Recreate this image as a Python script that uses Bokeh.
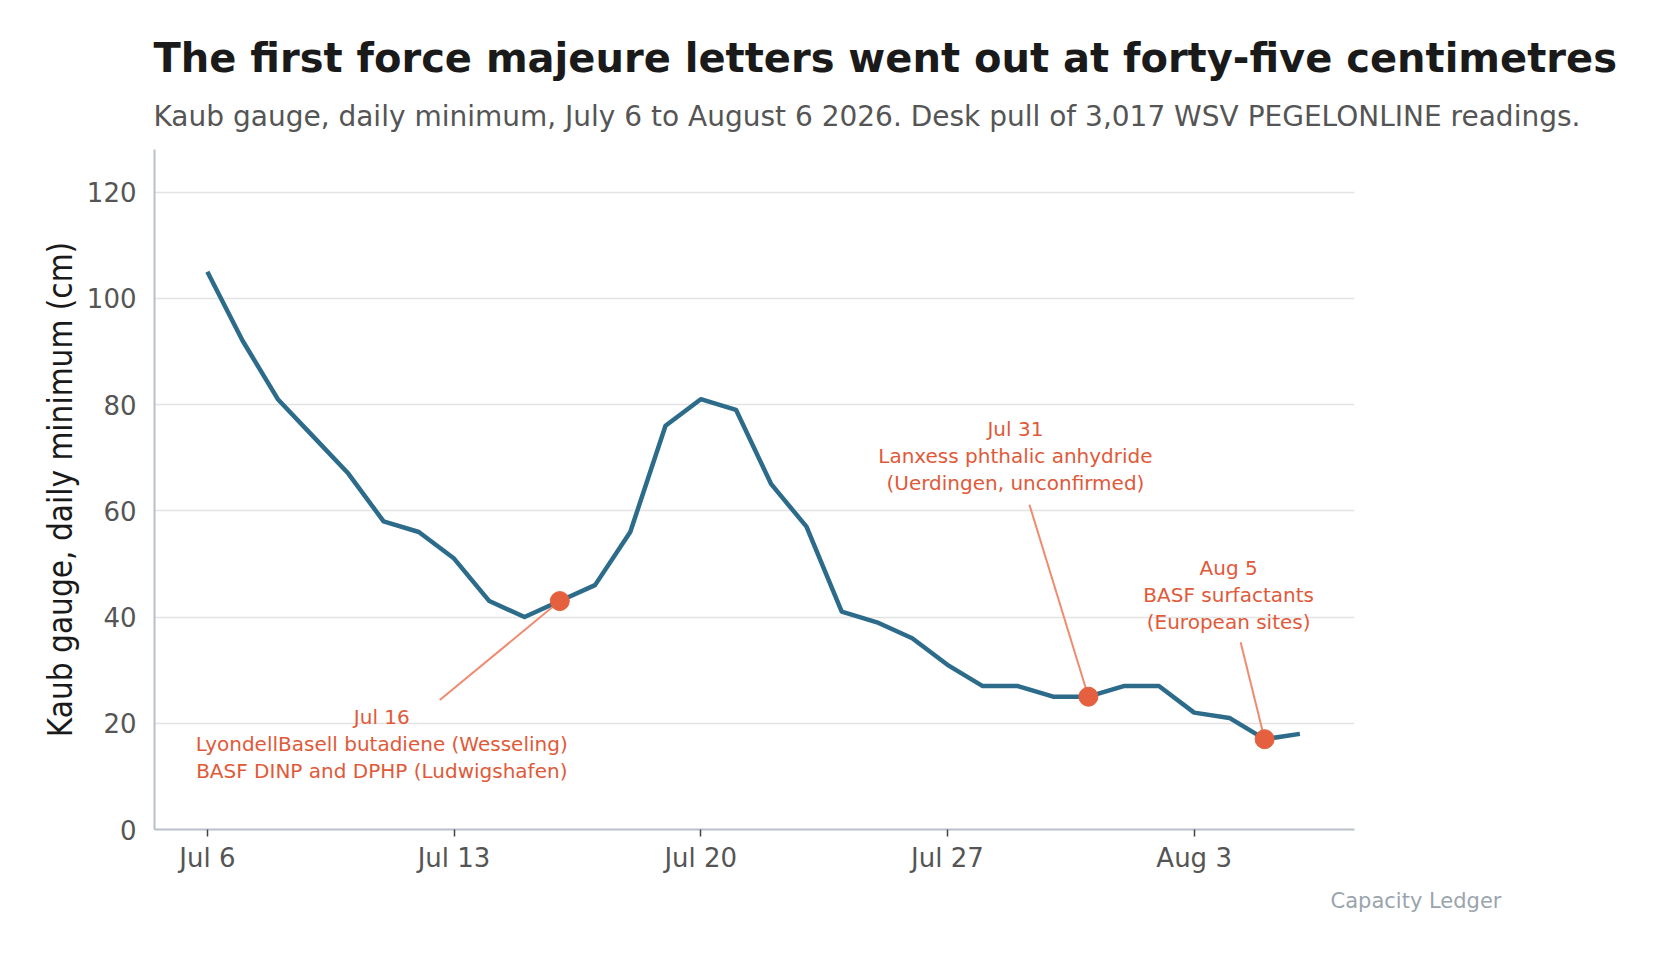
import pandas as pd
from bokeh.plotting import figure
from bokeh.models import Range1d, FixedTicker, Title, ColumnDataSource
from bokeh.core.properties import value
from bokeh.embed import file_html
from bokeh.resources import INLINE

# ---------------- data ----------------
dates = ["2026-07-06", "2026-07-07", "2026-07-08", "2026-07-09", "2026-07-10",
         "2026-07-11", "2026-07-12", "2026-07-13", "2026-07-14", "2026-07-15",
         "2026-07-16", "2026-07-17", "2026-07-18", "2026-07-19", "2026-07-20",
         "2026-07-21", "2026-07-22", "2026-07-23", "2026-07-24", "2026-07-25",
         "2026-07-26", "2026-07-27", "2026-07-28", "2026-07-29", "2026-07-30",
         "2026-07-31", "2026-08-01", "2026-08-02", "2026-08-03", "2026-08-04",
         "2026-08-05", "2026-08-06"]
kaub_cm = [105, 92, 81, 74, 67, 58, 56, 51, 43, 40,
           43, 46, 56, 76, 81, 79, 65, 57, 41, 39,
           36, 31, 27, 27, 25, 25, 27, 27, 22, 21,
           17, 18]

tick_dates = ["2026-07-06", "2026-07-13", "2026-07-20", "2026-07-27", "2026-08-03"]
tick_labels = ["Jul 6", "Jul 13", "Jul 20", "Jul 27", "Aug 3"]
y_ticks = [0, 20, 40, 60, 80, 100, 120]

event_dates = ["2026-07-16", "2026-07-31", "2026-08-05"]
event_texts = [
    ["Jul 16", "LyondellBasell butadiene (Wesseling)", "BASF DINP and DPHP (Ludwigshafen)"],
    ["Jul 31", "Lanxess phthalic anhydride", "(Uerdingen, unconfirmed)"],
    ["Aug 5", "BASF surfactants", "(European sites)"],
]

title = "The first force majeure letters went out at forty-five centimetres"
subtitle = ("Kaub gauge, daily minimum, July 6 to August 6 2026. "
            "Desk pull of 3,017 WSV PEGELONLINE readings.")
y_label = "Kaub gauge, daily minimum (cm)"
credit = "Capacity Ledger"

# ---------------- layout / style ----------------
FONT = "DejaVu Sans"
LINE_C = "#2c6b8a"
ACCENT = "#e4603e"
ACCENT_TXT = "#e05a3a"
CONNECT = "#ef8b70"

W, H = 1644, 944
ML, MR, MT, MB = 154, 290, 149, 115
X0, X1 = -1.5, 32.55
Y0, Y1 = 0, 128
FW, FH = W - ML - MR, H - MT - MB
PX_DAY = FW / (X1 - X0)
PX_CM = FH / (Y1 - Y0)

start = pd.Timestamp(dates[0])
def idx(d):
    return (pd.Timestamp(d) - start).days

xs = [idx(d) for d in dates]
val_by_idx = dict(zip(xs, kaub_cm))

p = figure(width=W, height=H, output_backend="svg", toolbar_location=None,
           title=None,
           x_range=Range1d(X0, X1), y_range=Range1d(Y0, Y1),
           min_border_left=ML, min_border_right=MR,
           min_border_top=MT, min_border_bottom=MB)
p.outline_line_color = None
p.background_fill_color = "white"
p.border_fill_color = "white"

# grid
p.xgrid.grid_line_color = None
p.ygrid.grid_line_color = "#e3e3e3"
p.ygrid.grid_line_width = 1.5

# axes
for ax in (p.xaxis, p.yaxis):
    ax.axis_line_color = "#b9c0c8"
    ax.axis_line_width = 2
    ax.minor_tick_line_color = None
    ax.major_label_text_font = FONT
    ax.major_label_text_font_size = "26px"
    ax.major_label_text_color = "#555555"

p.xaxis.ticker = FixedTicker(ticks=[idx(d) for d in tick_dates])
p.xaxis.major_label_overrides = {idx(d): lab for d, lab in zip(tick_dates, tick_labels)}
p.xaxis.major_tick_line_color = "#444444"
p.xaxis.major_tick_line_width = 1.5
p.xaxis.major_tick_out = 7
p.xaxis.major_tick_in = 0
p.xaxis.major_label_standoff = 6

p.yaxis.ticker = FixedTicker(ticks=y_ticks)
p.yaxis.major_tick_line_color = None
p.yaxis.major_tick_out = 0
p.yaxis.major_tick_in = 0
p.yaxis.major_label_standoff = 18
p.yaxis.axis_label = y_label
p.yaxis.axis_label_text_font = "DejaVu Sans Condensed, DejaVu Sans"
p.yaxis.axis_label_text_font_size = "33px"
p.yaxis.axis_label_text_font_style = "normal"
p.yaxis.axis_label_text_color = "#1a1a1a"
p.yaxis.axis_label_standoff = 4

# main line
p.line(xs, kaub_cm, line_width=4.5, line_color=LINE_C, line_join="round")

# events: offsets (px) of text centre / first line y and connector end, relative to point
text_dx = [-178, -73, -36]
text_dy = [116, -268, -171]
line_gap = 27
conn_dx = [-120, -59, -24]
conn_dy = [99, -192, -97]

ex = [idx(d) for d in event_dates]
ey = [val_by_idx[i] for i in ex]

p.segment(x0=ex, y0=ey,
          x1=[x + dx / PX_DAY for x, dx in zip(ex, conn_dx)],
          y1=[y - dy / PX_CM for y, dy in zip(ey, conn_dy)],
          line_color=CONNECT, line_width=2)

p.scatter(ex, ey, size=19, fill_color=ACCENT, line_color=ACCENT)

tx, ty, tt, txo, tyo = [], [], [], [], []
for i, lines in enumerate(event_texts):
    for j, line in enumerate(lines):
        tx.append(ex[i]); ty.append(ey[i]); tt.append(line)
        txo.append(text_dx[i]); tyo.append(text_dy[i] + j * line_gap)
src = ColumnDataSource(dict(x=tx, y=ty, text=tt, xo=txo, yo=tyo))
p.text(x="x", y="y", text="text", x_offset="xo", y_offset="yo", source=src,
       text_font=value(FONT), text_font_size="20px", text_color=ACCENT_TXT,
       text_align="center", text_baseline="middle")

# titles & credit
sub_t = Title(text=subtitle, align="left", offset=-1, standoff=34,
              text_font=FONT, text_font_size="28px", text_font_style="normal",
              text_color="#555555")
main_t = Title(text=title, align="left", offset=-1, standoff=0,
               text_font=FONT, text_font_size="40px", text_font_style="bold",
               text_color="#1a1a1a")
p.add_layout(sub_t, "above")
p.add_layout(main_t, "above")

cred_t = Title(text=credit, align="right", offset=-147, standoff=22,
               text_font=FONT, text_font_size="21px", text_font_style="normal",
               text_color="#9aa4ae")
p.add_layout(cred_t, "below")

open("out.html", "w").write(file_html(p, INLINE))
